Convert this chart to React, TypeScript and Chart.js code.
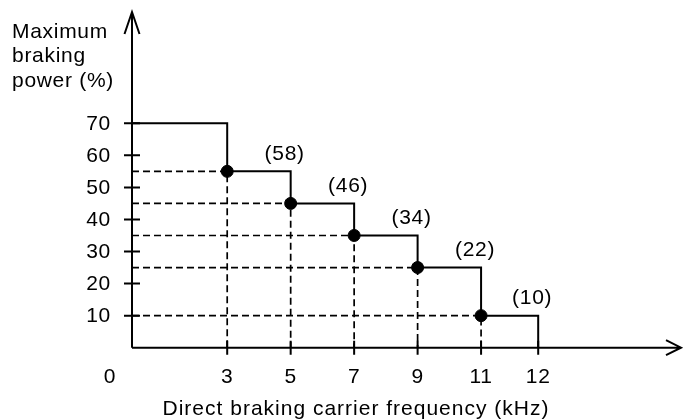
import React, { useEffect, useRef } from 'react';
import { Chart, LinearScale, registerables } from 'chart.js';

// ---- data ----
const stepKhz = [0, 3, 5, 7, 9, 11, 12];
const stepPower = [70, 55, 45, 35, 25, 10, 0];
const markerKhz = [3, 5, 7, 9, 11];
const markerPower = [55, 45, 35, 25, 10];
const segmentLabels = ['(58)', '(46)', '(34)', '(22)', '(10)'];
const segmentEndKhz = [5, 7, 9, 11, 12];
const segmentPower = [55, 45, 35, 25, 10];
const xTicks = [3, 5, 7, 9, 11, 12];
const yTicks = [10, 20, 30, 40, 50, 60, 70];
const originLabel = '0';
const xTitle = 'Direct braking carrier frequency (kHz)';
const yTitleLines = ['Maximum', 'braking', 'power (%)'];

// x axis of the original drawing is linear up to 11 kHz, then the last step is drawn wider
const BREAK = 11;
const STRETCH = 1.8;
const warp = (v: number) => (v <= BREAK ? v : BREAK + (v - BREAK) * STRETCH);
const unwarp = (u: number) => (u <= BREAK ? u : BREAK + (u - BREAK) / STRETCH);

class KhzScale extends LinearScale {
  static id = 'khz';
  static defaults = (LinearScale as any).defaults;
  getPixelForValue(v: number) {
    return super.getPixelForValue(warp(v));
  }
  getValueForPixel(p: number) {
    return unwarp(super.getValueForPixel(p) as number);
  }
}

Chart.register(...registerables, KhzScale as any);

const FONT = '21px "Liberation Sans", Arial, sans-serif';
const INK = '#000';

const axesPlugin = {
  id: 'drawnAxes',
  beforeDatasetsDraw(chart: any) {
    const { ctx, chartArea, scales } = chart;
    const xs = scales.x;
    const ys = scales.y;
    const x0 = xs.getPixelForValue(0);
    const y0 = ys.getPixelForValue(0);
    ctx.save();
    ctx.strokeStyle = INK;
    ctx.lineWidth = 2;
    ctx.setLineDash([]);
    // y axis with arrow
    ctx.beginPath();
    ctx.moveTo(x0, y0);
    ctx.lineTo(x0, chartArea.top);
    ctx.moveTo(x0 - 7.5, chartArea.top + 22);
    ctx.lineTo(x0, chartArea.top);
    ctx.lineTo(x0 + 7.5, chartArea.top + 22);
    ctx.stroke();
    // x axis with arrow
    ctx.beginPath();
    ctx.moveTo(x0, y0);
    ctx.lineTo(chartArea.right, y0);
    ctx.moveTo(chartArea.right - 15, y0 - 7.5);
    ctx.lineTo(chartArea.right, y0);
    ctx.lineTo(chartArea.right - 15, y0 + 7.5);
    ctx.stroke();
    // ticks
    ctx.beginPath();
    yTicks.forEach((t) => {
      const py = ys.getPixelForValue(t);
      ctx.moveTo(x0 - 8, py);
      ctx.lineTo(x0 + 8, py);
    });
    xTicks.forEach((t) => {
      const px = xs.getPixelForValue(t);
      ctx.moveTo(px, y0 - 7);
      ctx.lineTo(px, y0 + 7);
    });
    ctx.stroke();
    ctx.restore();
  },
  afterDatasetsDraw(chart: any) {
    const { ctx, scales } = chart;
    const xs = scales.x;
    const ys = scales.y;
    const x0 = xs.getPixelForValue(0);
    const y0 = ys.getPixelForValue(0);
    ctx.save();
    ctx.fillStyle = INK;
    ctx.font = FONT;
    const spacing = (s: string) => {
      try {
        (ctx as any).letterSpacing = s;
      } catch (e) {}
    };
    spacing('0.7px');
    // y tick labels
    ctx.textAlign = 'right';
    ctx.textBaseline = 'middle';
    yTicks.forEach((t) => {
      ctx.fillText(String(t), x0 - 21, ys.getPixelForValue(t) + 1);
    });
    // x tick labels
    ctx.textAlign = 'center';
    xTicks.forEach((t) => {
      ctx.fillText(String(t), xs.getPixelForValue(t), y0 + 30);
    });
    ctx.fillText(originLabel, x0 - 22, y0 + 30);
    // segment labels
    segmentLabels.forEach((lab, i) => {
      ctx.fillText(
        lab,
        xs.getPixelForValue(segmentEndKhz[i]) - 6,
        ys.getPixelForValue(segmentPower[i]) - 17
      );
    });
    // y title
    ctx.textBaseline = 'alphabetic';
    ctx.textAlign = 'left';
    yTitleLines.forEach((line, i) => {
      ctx.fillText(line, 12, 38 + i * 24.3);
    });
    // x title
    spacing('1px');
    ctx.textAlign = 'center';
    ctx.fillText(xTitle, 356, 414.5);
    ctx.restore();
  },
};

export default function App() {
  const ref = useRef<HTMLCanvasElement | null>(null);
  useEffect(() => {
    if (!ref.current) return;
    const guides: any[] = [];
    markerKhz.forEach((x, i) => {
      guides.push({ x: 0, y: markerPower[i] });
      guides.push({ x, y: markerPower[i] });
      guides.push({ x, y: 0 });
      guides.push({ x, y: null });
    });
    const chart = new Chart(ref.current, {
      type: 'line',
      data: {
        datasets: [
          {
            label: 'markers',
            data: markerKhz.map((x, i) => ({ x, y: markerPower[i] })),
            showLine: false,
            pointRadius: 6,
            pointBorderWidth: 1,
            pointBackgroundColor: INK,
            pointBorderColor: INK,
            clip: false,
            order: 0,
          } as any,
          {
            label: 'max braking power',
            data: stepKhz.map((x, i) => ({ x, y: stepPower[i] })),
            stepped: true,
            borderColor: INK,
            borderWidth: 2,
            pointRadius: 0,
            fill: false,
            clip: false,
            order: 1,
          } as any,
          {
            label: 'guides',
            data: guides,
            borderColor: INK,
            borderWidth: 1.7,
            borderDash: [7, 4],
            pointRadius: 0,
            spanGaps: false,
            fill: false,
            clip: false,
            order: 2,
          } as any,
        ],
      },
      options: {
        animation: false,
        responsive: false,
        events: [],
        layout: { padding: { left: 132, right: 1, top: 12, bottom: 71.3 } },
        plugins: { legend: { display: false }, tooltip: { enabled: false } },
        scales: {
          x: { type: 'khz' as any, display: false, min: 0, max: 17.3, bounds: 'data' } as any,
          y: { type: 'linear', display: false, min: 0, max: 104.7, bounds: 'data' } as any,
        },
      },
      plugins: [axesPlugin as any],
    });
    return () => chart.destroy();
  }, []);
  return (
    <div style={{ position: 'absolute', left: 0, top: 0, width: 688, height: 419, background: '#fff' }}>
      <canvas ref={ref} width={688} height={419} />
    </div>
  );
}
